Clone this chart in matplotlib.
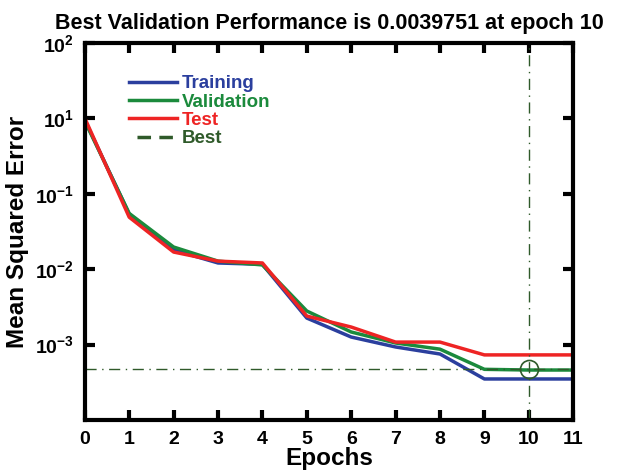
import matplotlib
matplotlib.use("Agg")
import matplotlib.pyplot as plt
from matplotlib.lines import Line2D

plt.rcParams['font.family'] = ['Liberation Sans', 'DejaVu Sans']
plt.rcParams['font.weight'] = 'bold'
plt.rcParams['mathtext.fontset'] = 'custom'
plt.rcParams['mathtext.rm'] = 'Liberation Sans:bold'
plt.rcParams['mathtext.bf'] = 'Liberation Sans:bold'
plt.rcParams['mathtext.default'] = 'bf'

epochs = [0, 1, 2, 3, 4, 5, 6, 7, 8, 9, 10, 11]
training = [9.5, 0.54, 0.18, 0.121, 0.116, 0.0225, 0.0126, 0.0093, 0.0075, 0.0035, 0.0035, 0.0035]
validation = [9.2, 0.55, 0.197, 0.128, 0.114, 0.0279, 0.0147, 0.0105, 0.0087, 0.0047, 0.0046, 0.0046]
test = [10.1, 0.49, 0.169, 0.128, 0.121, 0.0239, 0.0171, 0.0108, 0.0108, 0.0073, 0.0073, 0.0073]
best_epoch = 10
best_value = 0.0048

ytick_vals = [1e2, 1e1, 1e0, 1e-1, 1e-2]
ytick_labels = [r'$10^{2}$', r'$10^{1}$', r'$10^{-1}$', r'$10^{-2}$', r'$10^{-3}$']
xtick_vals = list(range(0, 12))

c_train = '#2b3f9e'
c_val = '#1b8a3c'
c_test = '#ee2424'
c_best = '#2f5a2a'

fig = plt.figure(figsize=(6.19, 4.70), dpi=100)
ax = fig.add_axes([0.137, 0.1064, 0.789, 0.802])

ax.plot(epochs, training, color=c_train, lw=2.5, label='Training')
ax.plot(epochs, validation, color=c_val, lw=2.5, label='Validation')
ax.plot(epochs, test, color=c_test, lw=2.5, label='Test')

ax.axvline(best_epoch, color=c_best, lw=1.0, ls='-.', dashes=(8, 4, 1, 4))
ax.axhline(best_value, color=c_best, lw=1.0, ls='-.', dashes=(8, 4, 1, 4))
ax.plot([best_epoch], [best_value], marker='o', ms=13, mfc='none', mec=c_best, mew=1.2)

ax.set_yscale('log')
ax.set_ylim(1e-3, 1e2)
ax.set_xlim(0, 11)
ax.set_yticks(ytick_vals)
ax.set_yticklabels(ytick_labels)
ax.minorticks_off()
ax.set_xticks(xtick_vals)
ax.set_xticklabels([str(v) for v in xtick_vals])

for s in ax.spines.values():
    s.set_linewidth(3.0)
ax.tick_params(direction='in', length=7, width=3, top=True, right=True,
               labelsize=14, pad=8)
for lab in ax.get_xticklabels() + ax.get_yticklabels():
    lab.set_fontweight('bold')

ax.set_xlabel('Epochs', fontsize=17.5, fontweight='bold', labelpad=-1)
ax.set_ylabel('Mean Squared Error', fontsize=17.5, fontweight='bold', labelpad=4)
ax.set_title('Best Validation Performance is 0.0039751 at epoch 10',
             fontsize=15.5, fontweight='bold', pad=10)

handles = [Line2D([], [], color=c_train, lw=2.5),
           Line2D([], [], color=c_val, lw=2.5),
           Line2D([], [], color=c_test, lw=2.5),
           Line2D([], [], color=c_best, lw=2.5, ls=(4, (3.9, 2.4)))]
leg = ax.legend(handles, ['Training', 'Validation', 'Test', 'Best'],
                loc='upper left', bbox_to_anchor=(0.055, 0.96), frameon=False,
                fontsize=13.5, handlelength=2.6, labelspacing=0.07, handletextpad=0.25)
for t, c in zip(leg.get_texts(), [c_train, c_val, c_test, c_best]):
    t.set_color(c)
    t.set_fontweight('bold')

fig.savefig('out.png', dpi=100)
